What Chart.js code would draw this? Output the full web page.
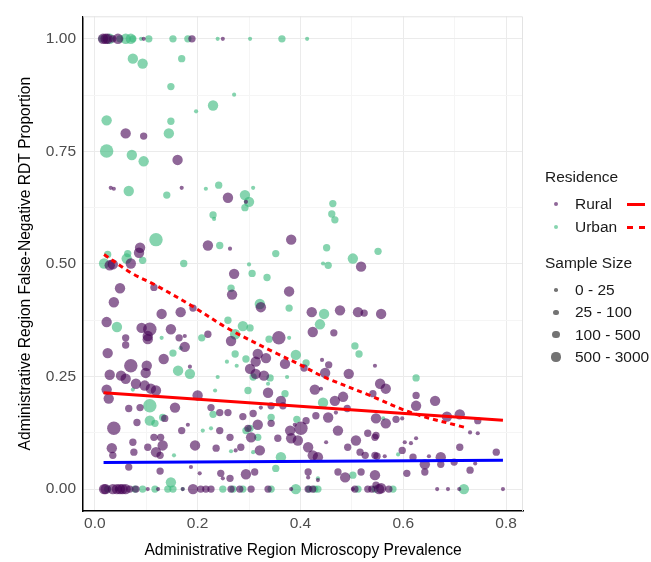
<!DOCTYPE html>
<html>
<head>
<meta charset="utf-8">
<script src="https://cdn.jsdelivr.net/npm/chart.js@4.4.1/dist/chart.umd.min.js"></script>
<style>
  body { margin: 0; background: #fff; font-family: "Liberation Sans", Arial, sans-serif; }
  #wrap { position: relative; width: 651px; height: 562px; }
  #legend .row { position: absolute; height: 18px; line-height: 18px; font-size: 15.5px; color: #1a1a1a; white-space: nowrap; }
  #legend .dot { position: absolute; border-radius: 50%; }
  #legend .key { position: absolute; height: 0; border-top: 3px solid #ff0000; }
</style>
</head>
<body>
<div id="wrap">
  <canvas id="chart" width="651" height="562"></canvas>
  <div id="legend"></div>
</div>
<script>
// [prevalence, false-negative proportion, sample size]
const ruralPoints = [
  [0.016,1,400],[0.021,1,400],[0.025,1,400],[0.035,1,80],[0.045,1,400],[0.095,1,15],[0.189,1,80],[0.249,1,15],
  [0.060,0.790,400],[0.095,0.784,80],[0.161,0.731,400],[0.031,0.669,15],[0.037,0.667,15],[0.169,0.669,15],[0.259,0.647,400],[0.294,0.638,15],
  [0.088,0.536,400],[0.086,0.525,400],[0.070,0.501,400],[0.029,0.497,400],[0.035,0.499,400],[0.220,0.541,400],[0.263,0.534,15],[0.382,0.554,400],[0.271,0.478,400],[0.518,0.494,400],
  [0.049,0.446,400],[0.115,0.448,80],[0.037,0.415,400],[0.130,0.389,400],[0.167,0.393,400],[0.191,0.402,80],[0.023,0.371,400],[0.091,0.358,400],[0.107,0.355,2000],[0.103,0.340,400],
  [0.103,0.333,400],[0.148,0.355,400],[0.164,0.336,80],[0.175,0.340,15],[0.175,0.316,400],[0.220,0.344,80],[0.060,0.336,80],[0.060,0.320,80],[0.025,0.302,400],[0.134,0.289,400],
  [0.070,0.274,2000],[0.101,0.274,400],[0.099,0.258,400],[0.185,0.272,15],[0.029,0.254,400],[0.051,0.252,400],[0.060,0.245,400],[0.265,0.329,400],[0.267,0.432,400],
  [0.378,0.439,400],[0.323,0.404,400],[0.422,0.393,400],[0.477,0.397,400],[0.512,0.393,400],[0.524,0.391,80],[0.424,0.349,400],[0.465,0.347,80],[0.358,0.336,2000],[0.317,0.300,400],
  [0.333,0.291,400],[0.313,0.283,400],[0.370,0.278,400],[0.302,0.267,400],[0.313,0.256,400],[0.329,0.252,400],[0.442,0.287,15],[0.455,0.276,80],[0.407,0.269,80],[0.448,0.258,400],
  [0.494,0.256,400],[0.545,0.274,15],[0.557,0.389,400],
  [0.023,0.221,400],[0.080,0.234,400],[0.097,0.230,400],[0.109,0.223,400],[0.119,0.219,400],[0.027,0.201,400],[0.066,0.179,80],[0.088,0.181,80],[0.156,0.181,400],[0.200,0.208,400],
  [0.226,0.181,80],[0.243,0.170,80],[0.259,0.170,80],[0.037,0.135,2000],[0.082,0.148,80],[0.136,0.157,80],[0.169,0.130,80],[0.181,0.143,15],[0.115,0.115,80],[0.128,0.115,80],
  [0.132,0.097,400],[0.103,0.093,80],[0.074,0.104,80],[0.076,0.082,80],[0.033,0.091,400],[0.035,0.075,80],[0.119,0.082,400],[0.127,0.075,80],[0.195,0.097,400],[0.236,0.091,80],
  [0.243,0.130,80],[0.263,0.115,80],[0.066,0.049,80],[0.127,0.040,80],[0.187,0.049,15],[0.204,0.035,15],[0.245,0.035,80],[0.249,0.024,15],[0.263,0.024,80],
  [0.337,0.214,400],[0.362,0.196,400],[0.366,0.185,80],[0.343,0.185,80],[0.308,0.168,80],[0.323,0.181,15],[0.288,0.161,80],[0.428,0.221,400],[0.440,0.223,15],[0.467,0.196,400],
  [0.483,0.205,400],[0.491,0.179,80],[0.430,0.163,80],[0.454,0.159,400],[0.469,0.170,15],[0.411,0.152,80],[0.317,0.143,400],[0.343,0.146,80],[0.380,0.130,400],[0.401,0.135,2000],
  [0.389,0.143,15],[0.356,0.113,80],[0.382,0.113,400],[0.395,0.108,400],[0.298,0.135,80],[0.304,0.115,400],[0.321,0.086,400],[0.284,0.093,80],[0.415,0.093,400],[0.424,0.075,400],
  [0.434,0.071,400],[0.473,0.130,400],[0.508,0.108,400],[0.531,0.124,80],[0.545,0.115,80],[0.492,0.093,80],[0.516,0.082,80],[0.526,0.075,80],[0.545,0.075,80],[0.450,0.104,15],
  [0.274,0.086,15],[0.311,0.038,80],[0.294,0.033,400],[0.415,0.038,80],[0.415,0.026,15],[0.487,0.026,400],[0.473,0.038,80],[0.518,0.038,80],[0.545,0.031,400],[0.434,0.020,15],
  [0.555,0.234,400],[0.566,0.223,400],[0.541,0.212,80],[0.625,0.208,80],[0.625,0.185,400],[0.662,0.196,400],[0.547,0.157,400],[0.566,0.146,400],[0.586,0.155,80],[0.598,0.157,15],
  [0.685,0.161,400],[0.710,0.166,400],[0.745,0.152,80],[0.730,0.126,15],[0.745,0.124,15],[0.603,0.104,15],[0.615,0.102,15],[0.625,0.113,15],[0.598,0.086,80],[0.710,0.093,80],
  [0.547,0.119,80],[0.549,0.073,80],[0.564,0.073,15],[0.619,0.071,80],[0.650,0.073,15],[0.673,0.071,400],[0.642,0.055,400],[0.673,0.055,80],[0.699,0.060,80],[0.740,0.057,15],
  [0.781,0.082,80],[0.730,0.042,80],[0.607,0.035,80],[0.642,0.038,80],[0.547,0.009,80],[0.557,0.002,400],
  [0.018,0,400],[0.021,0,400],[0.035,0,400],[0.043,0,400],[0.049,0,400],[0.054,0,400],[0.060,0,400],[0.068,0,80],[0.080,0,80],[0.103,0,15],
  [0.123,0,15],[0.171,0,15],[0.191,0,400],[0.206,0,80],[0.216,0,80],[0.226,0,80],[0.265,0,80],[0.282,0,80],[0.304,0,80],[0.337,0,80],
  [0.382,0,15],[0.415,0,80],[0.424,0,80],[0.502,0,15],[0.506,0,80],[0.531,0,80],[0.539,0,80],[0.553,0,400],[0.572,0,80],[0.666,0,15],
  [0.687,0,15],[0.709,0,15],[0.794,0,15]
];

const urbanPoints = [
  [0.014,1,80],[0.029,1,400],[0.049,1,80],[0.060,1,400],[0.070,1,400],[0.074,1,80],[0.090,1,15],[0.105,1,80],[0.152,1,80],[0.181,1,80],
  [0.239,1,15],[0.302,1,15],[0.364,1,80],[0.413,1,15],
  [0.074,0.956,400],[0.093,0.945,400],[0.169,0.956,80],[0.148,0.894,80],[0.271,0.876,15],[0.230,0.852,400],[0.197,0.839,15],[0.023,0.819,400],[0.148,0.817,80],[0.144,0.790,400],
  [0.023,0.751,2000],[0.072,0.742,400],[0.095,0.728,400],[0.066,0.662,400],[0.140,0.653,80],[0.216,0.667,15],[0.241,0.675,80],[0.292,0.653,400],[0.300,0.638,400],[0.308,0.669,15],
  [0.292,0.625,80],[0.230,0.609,80],[0.232,0.600,15],[0.463,0.634,80],[0.461,0.611,80],[0.467,0.598,80],
  [0.119,0.554,2000],[0.243,0.541,80],[0.352,0.523,80],[0.451,0.536,80],[0.444,0.501,15],[0.454,0.497,80],[0.025,0.521,80],[0.018,0.501,400],[0.064,0.523,80],[0.062,0.512,400],
  [0.093,0.508,80],[0.173,0.501,80],[0.300,0.499,15],[0.306,0.479,80],[0.335,0.470,80],[0.551,0.528,80],[0.502,0.512,400],
  [0.043,0.360,400],[0.130,0.336,15],[0.208,0.336,80],[0.152,0.302,80],[0.167,0.313,15],[0.162,0.263,400],[0.185,0.256,400],[0.259,0.375,80],[0.257,0.283,15],[0.239,0.249,15],
  [0.265,0.446,80],[0.321,0.411,400],[0.378,0.402,80],[0.446,0.389,400],[0.438,0.366,400],[0.288,0.362,400],[0.302,0.358,80],[0.273,0.344,400],[0.339,0.333,80],[0.378,0.336,15],
  [0.506,0.318,80],[0.514,0.300,80],[0.294,0.289,80],[0.391,0.298,400],[0.411,0.280,80],[0.273,0.300,80],[0.276,0.274,15],[0.308,0.249,80],[0.374,0.249,15],[0.625,0.247,80],
  [0.074,0.221,15],[0.107,0.185,2000],[0.107,0.152,400],[0.117,0.146,80],[0.132,0.159,80],[0.230,0.166,80],[0.234,0.219,15],[0.226,0.135,15],[0.210,0.130,15],[0.154,0.075,15],
  [0.148,0.015,400],[0.298,0.219,80],[0.337,0.234,15],[0.341,0.247,80],[0.370,0.212,80],[0.444,0.192,400],[0.393,0.155,80],[0.343,0.159,80],[0.294,0.130,80],[0.302,0.135,80],
  [0.317,0.115,80],[0.308,0.082,15],[0.362,0.071,400],[0.352,0.046,80],[0.502,0.031,80],[0.434,0.024,15],[0.265,0.084,15],[0.561,0.157,15],[0.590,0.077,15],
  [0.025,0,80],[0.043,0,15],[0.078,0,80],[0.093,0,80],[0.117,0,80],[0.142,0,80],[0.152,0,80],[0.171,0,15],[0.249,0,80],[0.269,0,80],
  [0.288,0,80],[0.343,0,80],[0.391,0,400],[0.417,0,80],[0.428,0,80],[0.434,0,80],[0.512,0,80],[0.545,0,80],[0.580,0,80],[0.718,0,400]
];

// fitted trend lines
const ruralFit = [[0.017,0.214],[0.794,0.153]];
const urbanFit = [[0.018,0.521],[0.074,0.478],[0.115,0.455],[0.19,0.406],[0.26,0.356],[0.356,0.300],[0.40,0.276],[0.444,0.250],[0.535,0.208],[0.62,0.168],[0.72,0.137]];
const overallFit = [[0.017,0.059],[0.794,0.064]];

const residenceLabels = ['Rural', 'Urban'];
const sizeLabels = ['0 - 25', '25 - 100', '100 - 500', '500 - 3000'];
const sizeLegendN = [8, 25, 70, 220];

const RURAL = 'rgba(68,1,84,0.6)';
const URBAN = 'rgba(53,183,121,0.6)';
const FONT = '"Liberation Sans", Arial, sans-serif';

function radius(n) {
  return Math.max(1.8, 0.95 * Math.log(n) - 0.5);
}
const toXY = arr => arr.map(p => ({x: p[0], y: p[1], n: p[2]}));

// grey top/right panel border
const panelBorder = {
  id: 'panelBorder',
  beforeDatasetsDraw(chart) {
    const {ctx, chartArea: a} = chart;
    ctx.save();
    ctx.strokeStyle = '#e3e3e3';
    ctx.lineWidth = 1;
    ctx.beginPath();
    ctx.moveTo(a.left, a.top + 0.5);
    ctx.lineTo(a.right - 0.5, a.top + 0.5);
    ctx.lineTo(a.right - 0.5, a.bottom);
    ctx.stroke();
    ctx.restore();
  }
};

new Chart(document.getElementById('chart'), {
  type: 'scatter',
  data: {
    datasets: [
      {
        label: 'Urban', data: toXY(urbanPoints), order: 3,
        backgroundColor: URBAN, borderWidth: 0,
        pointRadius: c => radius(c.raw.n)
      },
      {
        label: 'Rural', data: toXY(ruralPoints), order: 2,
        backgroundColor: RURAL, borderWidth: 0,
        pointRadius: c => radius(c.raw.n)
      },
      {
        type: 'line', label: 'overall', data: overallFit.map(p => ({x: p[0], y: p[1]})), order: 1,
        borderColor: '#0000ff', borderWidth: 3, pointRadius: 0, fill: false
      },
      {
        type: 'line', label: 'Rural fit', data: ruralFit.map(p => ({x: p[0], y: p[1]})), order: 0,
        borderColor: '#ff0000', borderWidth: 3, pointRadius: 0, fill: false
      },
      {
        type: 'line', label: 'Urban fit', data: urbanFit.map(p => ({x: p[0], y: p[1]})), order: 0,
        borderColor: '#ff0000', borderWidth: 3, borderDash: [5, 4], pointRadius: 0, fill: false,
        tension: 0.35
      }
    ]
  },
  options: {
    responsive: false,
    animation: false,
    devicePixelRatio: 1,
    events: [],
    layout: { padding: { top: 13, right: 128, bottom: 0, left: 0 } },
    plugins: { legend: { display: false }, tooltip: { enabled: false } },
    scales: {
      x: {
        type: 'linear', min: -0.023, max: 0.833,
        afterFit: s => { s.height = 51; },
        grid: {
          drawTicks: false,
          color: c => Math.round(c.tick.value * 10) % 2 === 0 ? '#ebebeb' : '#f5f5f5'
        },
        border: { display: true, color: '#000', width: 1.5 },
        ticks: {
          stepSize: 0.1, includeBounds: false, autoSkip: false, maxRotation: 0,
          padding: 3, color: '#4d4d4d', font: { family: FONT, size: 15.5 },
          callback: v => Math.round(v * 10) % 2 === 0 ? v.toFixed(1) : ''
        },
        title: {
          display: true, text: 'Administrative Region Microscopy Prevalence',
          color: '#000', font: { family: FONT, size: 15.6 }, padding: { top: 0, bottom: 2 }
        }
      },
      y: {
        type: 'linear', min: -0.0486, max: 1.05,
        afterFit: s => { s.width = 83; },
        grid: {
          drawTicks: false,
          color: c => Math.round(c.tick.value * 8) % 2 === 0 ? '#ebebeb' : '#f5f5f5'
        },
        border: { display: true, color: '#000', width: 1.5 },
        ticks: {
          stepSize: 0.125, includeBounds: false, autoSkip: false,
          padding: 7, color: '#4d4d4d', font: { family: FONT, size: 15.5 },
          callback: v => Math.round(v * 8) % 2 === 0 ? v.toFixed(2) : ''
        },
        title: {
          display: true, text: 'Administrative Region False-Negative RDT Proportion',
          color: '#000', font: { family: FONT, size: 15.6 }, padding: { top: 16, bottom: 0 }
        }
      }
    }
  },
  plugins: [panelBorder]
});

// legend built as html text
const legend = document.getElementById('legend');
function row(text, cy, left) {
  const d = document.createElement('div');
  d.className = 'row';
  d.style.left = left + 'px';
  d.style.top = (cy - 9) + 'px';
  d.textContent = text;
  legend.appendChild(d);
}
function dot(cx, cy, r, color) {
  const d = document.createElement('div');
  d.className = 'dot';
  d.style.left = (cx - r) + 'px';
  d.style.top = (cy - r) + 'px';
  d.style.width = d.style.height = (2 * r) + 'px';
  d.style.background = color;
  legend.appendChild(d);
}
row('Residence', 177, 545);
const resColors = [RURAL, URBAN];
residenceLabels.forEach((lab, i) => {
  const cy = 204 + i * 23;
  dot(556, cy, 2.2, resColors[i]);
  row(lab, cy, 575);
  const k = document.createElement('div');
  k.className = 'key';
  k.style.left = '627px';
  k.style.top = (cy - 1.5) + 'px';
  k.style.width = '18px';
  if (i === 1) { k.style.borderTopStyle = 'dashed'; }
  legend.appendChild(k);
});
row('Sample Size', 263, 545);
sizeLabels.forEach((lab, i) => {
  const cy = 290 + i * 22.3;
  dot(556, cy, radius(sizeLegendN[i]), 'rgba(0,0,0,0.55)');
  row(lab, cy, 575);
});
</script>
</body>
</html>
